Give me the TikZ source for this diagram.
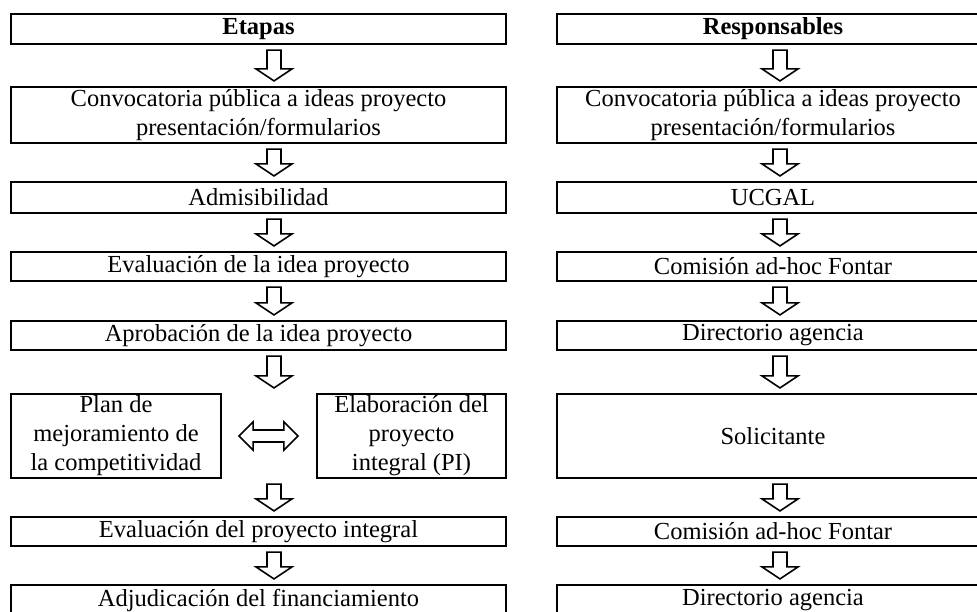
\documentclass[tikz,border=0pt]{standalone}
\usepackage{fontspec}
\setmainfont{Liberation Serif}
\usetikzlibrary{calc}
\tikzset{
  stagebox/.style={draw, line width=2.2pt, inner sep=0pt, align=center, anchor=center,
    font=\fontsize{24.5}{29}\selectfont},
  blockarr/.style={draw, line width=1.6pt, line join=miter, fill=white},
}
\newcommand\DArrow[3]{%
  \draw[blockarr] let \p1=(#1.south), \p2=(#2.north) in
   ({#3pt-7pt},{\y1-5pt}) -- ({#3pt+7pt},{\y1-5pt}) -- ({#3pt+7pt},{\y2+17pt}) --
   ({#3pt+18pt},{\y2+17pt}) -- ({#3pt},{\y2+5pt}) -- ({#3pt-18pt},{\y2+17pt}) --
   ({#3pt-7pt},{\y2+17pt}) -- cycle;}
\begin{document}
\begin{tikzpicture}[x=1pt,y=1pt]
\useasboundingbox (0,0) rectangle (977,612);
\clip (0,0) rectangle (977,612);
% left column: x 11..506, centre 258.5, width 495
\node[stagebox, minimum width=495pt, minimum height=30pt] (l0) at (258.5,583) {\textbf{Etapas}};
\node[stagebox, minimum width=495pt, minimum height=56pt] (l1) at (258.5,497) {Convocatoria pública a ideas proyecto\\presentación/formularios};
\node[stagebox, minimum width=495pt, minimum height=31pt] (l2) at (258.5,414.5) {Admisibilidad};
\node[stagebox, minimum width=495pt, minimum height=29pt] (l3) at (258.5,345.5) {Evaluación de la idea proyecto};
\node[stagebox, minimum width=495pt, minimum height=29pt] (l4) at (258.5,276.5) {Aprobación de la idea proyecto};
\node[stagebox, minimum width=210pt, minimum height=84pt] (l5a) at (116,176) {Plan de\\mejoramiento de\\la competitividad};
\node[stagebox, minimum width=189pt, minimum height=84pt] (l5b) at (411.5,176) {Elaboración del\\proyecto\\integral (PI)};
\node[stagebox, minimum width=495pt, minimum height=29pt] (l6) at (258.5,80.5) {Evaluación del proyecto integral};
\node[stagebox, minimum width=495pt, minimum height=30pt] (l7) at (258.5,12) {Adjudicación del financiamiento};
% right column: x 557..989, centre 773, width 432
\node[stagebox, minimum width=432pt, minimum height=30pt] (r0) at (773,583) {\textbf{Responsables}};
\node[stagebox, minimum width=432pt, minimum height=56pt] (r1) at (773,497) {Convocatoria pública a ideas proyecto\\presentación/formularios};
\node[stagebox, minimum width=432pt, minimum height=31pt] (r2) at (773,414.5) {UCGAL};
\node[stagebox, minimum width=432pt, minimum height=29pt] (r3) at (773,345.5) {Comisión ad-hoc Fontar};
\node[stagebox, minimum width=432pt, minimum height=29pt] (r4) at (773,276.5) {Directorio agencia};
\node[stagebox, minimum width=432pt, minimum height=84pt] (r5) at (773,176) {Solicitante};
\node[stagebox, minimum width=432pt, minimum height=29pt] (r6) at (773,80.5) {Comisión ad-hoc Fontar};
\node[stagebox, minimum width=432pt, minimum height=30pt] (r7) at (773,12) {Directorio agencia};
% down arrows
\DArrow{l0}{l1}{274}
\DArrow{l1}{l2}{274}
\DArrow{l2}{l3}{274}
\DArrow{l3}{l4}{274}
\DArrow{l4}{l5a}{274}
\DArrow{l5a}{l6}{274}
\DArrow{l6}{l7}{274}
\DArrow{r0}{r1}{780}
\DArrow{r1}{r2}{780}
\DArrow{r2}{r3}{780}
\DArrow{r3}{r4}{780}
\DArrow{r4}{r5}{780}
\DArrow{r5}{r6}{780}
\DArrow{r6}{r7}{780}
% double arrow between the two stage boxes
\draw[blockarr] let \p1=(l5a.east), \p2=(l5b.west) in
  ({\x1+17pt},{\y1}) -- ({\x1+31pt},{\y1+14pt}) -- ({\x1+31pt},{\y1+6pt}) --
  ({\x2-32pt},{\y1+6pt}) -- ({\x2-32pt},{\y1+14pt}) -- ({\x2-18pt},{\y1}) --
  ({\x2-32pt},{\y1-14pt}) -- ({\x2-32pt},{\y1-6pt}) -- ({\x1+31pt},{\y1-6pt}) --
  ({\x1+31pt},{\y1-14pt}) -- cycle;
\end{tikzpicture}
\end{document}
